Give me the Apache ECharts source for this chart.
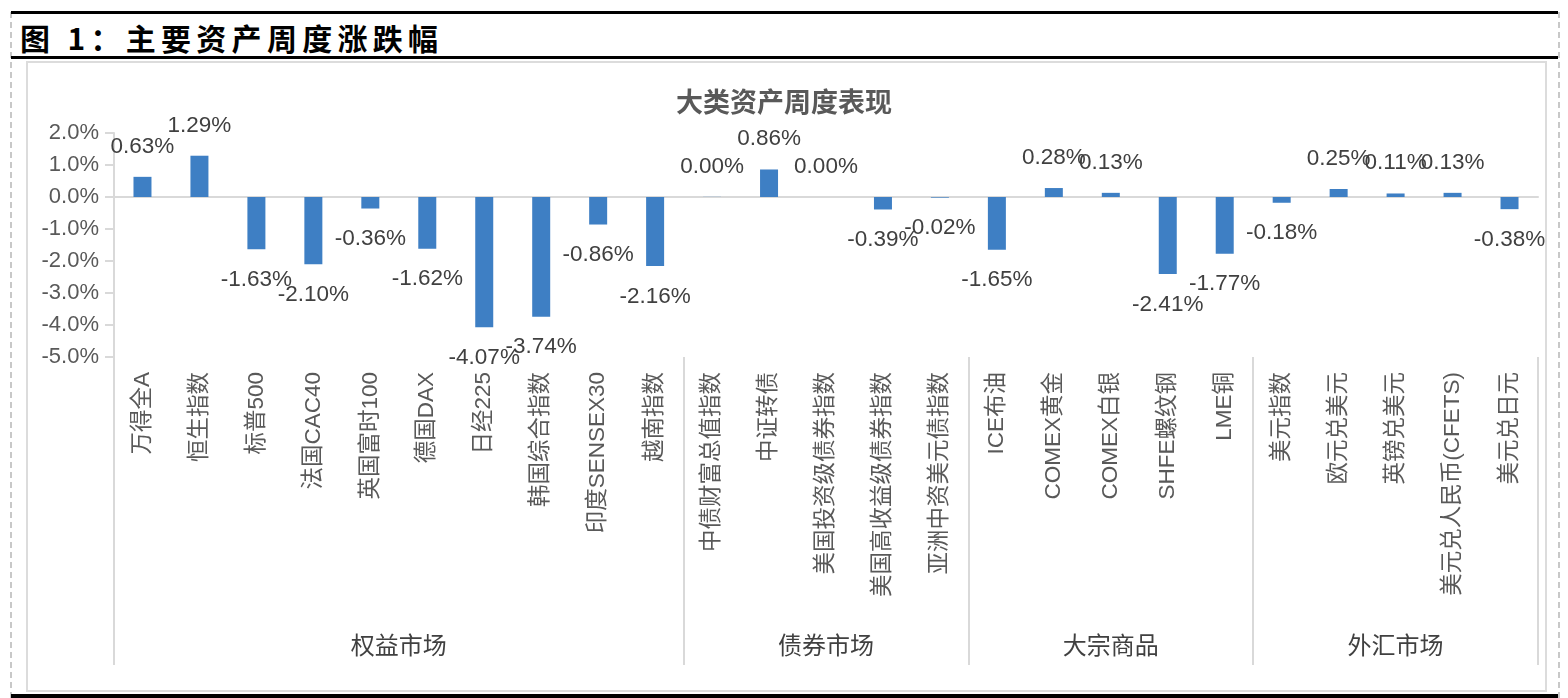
<!DOCTYPE html>
<html>
<head>
<meta charset="utf-8">
<script src="https://cdn.jsdelivr.net/npm/echarts@6/dist/echarts.min.js"></script>
<style>
  html, body { margin: 0; padding: 0; background: #fff; }
  #wrap { position: relative; width: 1568px; height: 698px; overflow: hidden; background: #fff; }
  .abs { position: absolute; }
  #titlebar { left: 20px; top: 17px; font: bold 30px "Noto Sans CJK SC", sans-serif; letter-spacing: 5.3px; color: #000; line-height: 40px; white-space: nowrap; }
  #chart { position: absolute; left: 0; top: 0; width: 1568px; height: 698px; }
</style>
</head>
<body>
<div id="wrap">
  <div class="abs" style="left:10px;top:12px;height:686px;border-left:2px dashed #c8c8c8;"></div>
  <div class="abs" style="left:1558px;top:12px;height:686px;border-left:2px dashed #c8c8c8;"></div>
  <div class="abs" style="left:11px;top:11px;width:1547px;height:3px;background:#000;"></div>
  <div class="abs" id="titlebar">图 1：主要资产周度涨跌幅</div>
  <div class="abs" style="left:11px;top:56px;width:1547px;height:3px;background:#000;"></div>
  <div class="abs" style="left:26px;top:61px;width:1517px;height:627px;border:2px solid #dcdcdc;"></div>
  <div class="abs" style="left:11px;top:694px;width:1547px;height:4px;background:#000;"></div>
  <div id="chart"></div>
</div>
<script>
// ---- data ----
var categories = ['万得全A','恒生指数','标普500','法国CAC40','英国富时100','德国DAX','日经225','韩国综合指数','印度SENSEX30','越南指数',
  '中债财富总值指数','中证转债','美国投资级债券指数','美国高收益级债券指数','亚洲中资美元债指数',
  'ICE布油','COMEX黄金','COMEX白银','SHFE螺纹钢','LME铜',
  '美元指数','欧元兑美元','英镑兑美元','美元兑人民币(CFETS)','美元兑日元'];
var values = [0.63, 1.29, -1.63, -2.10, -0.36, -1.62, -4.07, -3.74, -0.86, -2.16,
  0.004, 0.86, 0.00, -0.39, -0.02,
  -1.65, 0.28, 0.13, -2.41, -1.77,
  -0.18, 0.25, 0.11, 0.13, -0.38];
var groupNames = ['权益市场','债券市场','大宗商品','外汇市场'];
var groupSizes = [10, 5, 5, 5];
var yTicks = { min: -5, max: 2, interval: 1 };

// ---- derived group boundaries / centers ----
var bounds = [0], centers = [];
groupSizes.forEach(function (n, i) {
  var start = bounds[bounds.length - 1];
  centers.push(start + n / 2);
  bounds.push(start + n);
});

var FONT = '"Liberation Sans", "Noto Sans CJK SC", sans-serif';
var chart = echarts.init(document.getElementById('chart'), null, { renderer: 'canvas' });

var seriesData = values.map(function (v) {
  return { value: v, label: { position: v < 0 ? 'bottom' : 'top' } };
});

chart.setOption({
  animation: false,
  backgroundColor: 'transparent',
  title: {
    text: '大类资产周度表现',
    left: 'center',
    top: 83,
    textStyle: { fontFamily: '"Noto Sans CJK SC", sans-serif', fontSize: 27, fontWeight: 'bold', color: '#595959' }
  },
  grid: { left: 114, right: 30, top: 133, bottom: 341, containLabel: false },
  xAxis: [
    {
      type: 'category',
      data: categories,
      position: 'bottom',
      axisLine: { show: false, onZero: false },
      axisTick: { show: false },
      axisLabel: { interval: 0, rotate: 90, margin: 15, fontSize: 22.5, color: '#595959', fontFamily: FONT },
      splitLine: { show: false }
    },
    {
      type: 'category',
      data: categories,
      axisLine: { show: true, onZero: true, lineStyle: { color: '#d9d9d9', width: 2 } },
      axisTick: { show: false },
      axisLabel: { show: false },
      splitLine: { show: false }
    },
    {
      type: 'value',
      min: 0,
      max: categories.length,
      position: 'bottom',
      axisLine: { show: false, onZero: false },
      axisTick: { show: true, customValues: bounds, length: 308, lineStyle: { color: '#d9d9d9', width: 2 } },
      axisLabel: {
        show: true,
        customValues: centers,
        margin: 276,
        fontSize: 24,
        color: '#404040',
        fontFamily: '"Noto Sans CJK SC", sans-serif',
        formatter: function (v) { return groupNames[centers.indexOf(v)] || ''; }
      },
      splitLine: { show: false }
    }
  ],
  yAxis: {
    type: 'value',
    min: yTicks.min,
    max: yTicks.max,
    interval: yTicks.interval,
    axisLine: { show: true, lineStyle: { color: '#d9d9d9', width: 2 } },
    axisTick: { show: true, length: 9, lineStyle: { color: '#d9d9d9', width: 2 } },
    axisLabel: { margin: 15, fontSize: 22, color: '#595959', fontFamily: FONT,
      formatter: function (v) { return v.toFixed(1) + '%'; } },
    splitLine: { show: false }
  },
  series: [{
    type: 'bar',
    xAxisIndex: 0,
    yAxisIndex: 0,
    data: seriesData,
    barWidth: 18,
    itemStyle: { color: '#3e7fc4' },
    label: {
      show: true,
      distance: 19,
      fontSize: 22.5,
      color: '#404040',
      fontFamily: FONT,
      formatter: function (p) { return p.value.toFixed(2) + '%'; }
    }
  }]
});
</script>
</body>
</html>
